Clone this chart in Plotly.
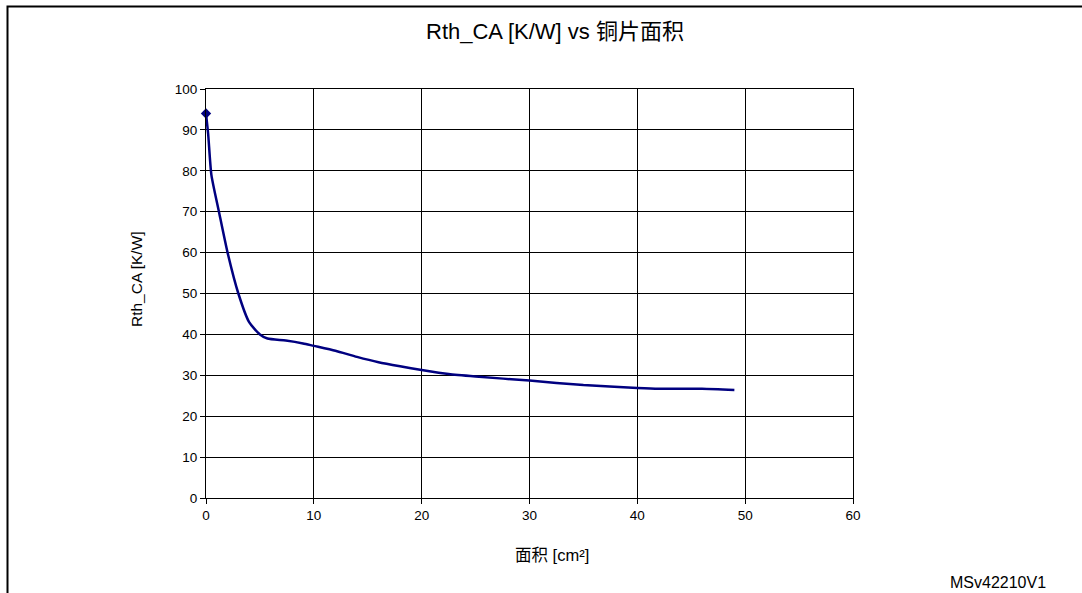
import plotly.graph_objects as go

area_cm2 = [0, 0.2, 0.5, 1.2, 2, 3, 4, 5, 5.7, 7.4, 9, 10, 12, 14, 16, 18, 20, 22.5, 25, 30, 35, 40, 42, 46, 49]
rth_ca = [94, 89, 79, 70, 60, 50, 43, 40, 39, 38.5, 37.8, 37.2, 36, 34.5, 33.2, 32.2, 31.3, 30.3, 29.7, 28.7, 27.6, 26.9, 26.7, 26.7, 26.4]

title_text = "Rth_CA [K/W] vs 铜片面积"
x_title = "面积 [cm²]"
y_title = "Rth_CA [K/W]"
ref_label = "MSv42210V1"

W, H = 1082, 593
L, R, T, B = 206, 229, 89, 95
pw, ph = W - L - R, H - T - B

def px_to_paper_x(px):
    return (px - L) / pw

def py_to_paper_y(py):
    return (H - B - py) / ph

font = "Liberation Sans, Arial, Noto Sans CJK SC, sans-serif"

fig = go.Figure()
fig.add_trace(go.Scatter(
    x=area_cm2, y=rth_ca, mode="lines",
    line=dict(color="#000080", width=2.5, shape="spline", smoothing=0.6),
    showlegend=False,
))
fig.add_trace(go.Scatter(
    x=area_cm2[:1], y=rth_ca[:1], mode="markers",
    marker=dict(symbol="diamond", size=8, color="#000080"),
    cliponaxis=False, showlegend=False,
))

axis_common = dict(
    showgrid=True, gridcolor="black", gridwidth=1,
    showline=True, linecolor="black", linewidth=1, mirror=True,
    ticks="outside", ticklen=5, tickcolor="black",
    tickfont=dict(family=font, size=13.5, color="black"),
    zeroline=False,
)
fig.update_xaxes(range=[0, 60], dtick=10, **axis_common)
fig.update_yaxes(range=[0, 100], dtick=10, **axis_common)

fig.update_layout(
    width=W, height=H,
    margin=dict(l=L, r=R, t=T, b=B),
    paper_bgcolor="white", plot_bgcolor="white",
    font=dict(family=font, color="black"),
    annotations=[
        dict(text=title_text, x=px_to_paper_x(555), y=py_to_paper_y(32), xref="paper", yref="paper",
             showarrow=False, font=dict(size=22, family=font), xanchor="center", yanchor="middle"),
        dict(text=x_title, x=px_to_paper_x(552), y=py_to_paper_y(555), xref="paper", yref="paper",
             showarrow=False, font=dict(size=16.5, family=font), xanchor="center", yanchor="middle"),
        dict(text=y_title, x=px_to_paper_x(136), y=py_to_paper_y(279), xref="paper", yref="paper",
             showarrow=False, textangle=-90, font=dict(size=15.5, family=font), xanchor="center", yanchor="middle"),
        dict(text=ref_label, x=px_to_paper_x(998), y=py_to_paper_y(582), xref="paper", yref="paper",
             showarrow=False, font=dict(size=16, family=font), xanchor="center", yanchor="middle"),
    ],
    shapes=[
        dict(type="rect", xref="paper", yref="paper",
             x0=px_to_paper_x(7.5), x1=px_to_paper_x(1100),
             y0=py_to_paper_y(610), y1=py_to_paper_y(6.5),
             line=dict(color="black", width=2), fillcolor="rgba(0,0,0,0)", layer="above"),
    ],
)

fig.write_html("out.html", config={"displayModeBar": False},
               post_script="document.body.style.margin='0';")
